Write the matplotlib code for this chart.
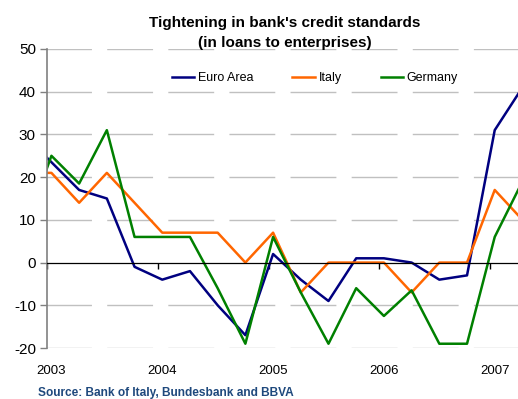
import matplotlib
matplotlib.use("Agg")
import matplotlib.pyplot as plt
import numpy as np

plt.rcParams["font.family"] = ["Liberation Sans", "DejaVu Sans"]
plt.rcParams["axes.unicode_minus"] = False

# ---------- data (quarterly, first point is 2002Q4, partly clipped) ----------
years = ["2003", "2004", "2005", "2006", "2007"]
euro_area = [30, 23.5, 17, 15, -1, -4, -2, -10, -17, 2, -4, -9, 1, 1, 0, -4, -3, 31, 41]
italy = [21, 21, 14, 21, 14, 7, 7, 7, 0, 7, -7, 0, 0, 0, -7, 0, 0, 17, 10]
germany = [7, 25, 18.5, 31, 6, 6, 6, -6, -19, 6, -7, -19, -6, -12.5, -6.5, -19, -19, 6, 19]

series = [("Euro Area", euro_area, "#000080"),
          ("Italy", italy, "#FF6600"),
          ("Germany", germany, "#008000")]

x = np.arange(len(euro_area)) - 1   # quarter index, 0 = 2003Q1

# ---------- figure ----------
fig = plt.figure(figsize=(5.18, 3.99), dpi=100)
ax = fig.add_axes([47 / 518, 51 / 399, 471 / 518, 299 / 399])

for name, vals, col in series:
    ax.plot(x, vals, color=col, lw=1.8, label=name)

ax.set_xlim(-0.16, 16.84)
ax.set_ylim(-20, 50)
ax.set_yticks(np.arange(-20, 51, 10))
ax.tick_params(axis="y", labelsize=11, length=5, width=1, color="#808080", pad=3)

# grid
for v in [-20, -10, 10, 20, 30, 40, 50]:
    ax.axhline(v, color="#c0c0c0", lw=1, linestyle=(1, (33, 11)), zorder=0)

# spines
for s in ["top", "right"]:
    ax.spines[s].set_visible(False)
ax.spines["left"].set_color("#808080")
ax.spines["left"].set_linewidth(1.2)
ax.spines["bottom"].set_position(("data", 0))
ax.spines["bottom"].set_color("black")
ax.spines["bottom"].set_linewidth(0.9)

# year boundary tick marks on the zero line
ax.set_xticks([-0.16 + 4 * k for k in range(5)])
ax.set_xticklabels([])
ax.tick_params(axis="x", length=4, width=1, color="black")

# year labels at bottom
sec = ax.secondary_xaxis(0.0)
sec.set_xticks([4 * k for k in range(len(years))])
sec.set_xticklabels(years)
sec.tick_params(length=0, labelsize=9.5, pad=12)
sec.spines["bottom"].set_visible(False)

# legend
fig.legend(loc="center", bbox_to_anchor=(315 / 518, 1 - 78 / 399), ncol=3,
           frameon=False, fontsize=9, handlelength=1.8, handletextpad=0.3,
           columnspacing=3.1)

# title
fig.text(285 / 518, 1 - 33 / 399,
         "Tightening in bank's credit standards\n(in loans to enterprises)",
         ha="center", va="center", fontsize=11, fontweight="bold",
         linespacing=1.5)

# source
fig.text(38 / 518, 1 - 393 / 399, "Source: Bank of Italy, Bundesbank and BBVA",
         ha="left", va="center", fontsize=8.6, fontweight="bold", color="#1F497D")

fig.savefig("out.png", dpi=100)
